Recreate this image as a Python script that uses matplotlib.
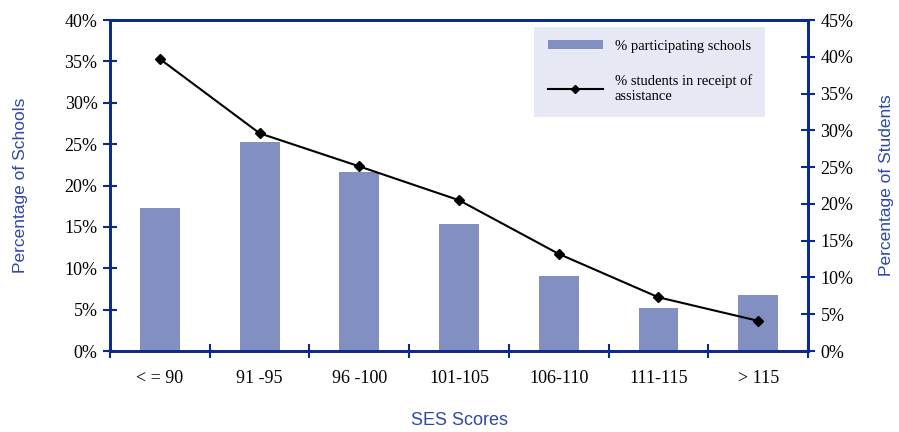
import matplotlib
matplotlib.use("Agg")
import matplotlib.pyplot as plt
from matplotlib.ticker import PercentFormatter, FixedLocator
from matplotlib.lines import Line2D
from matplotlib.patches import Patch

categories = ["< = 90", "91 -95", "96 -100", "101-105", "106-110", "111-115", "> 115"]
pct_schools = [17.3, 25.3, 21.6, 15.3, 9.1, 5.2, 6.8]
pct_students = [39.7, 29.6, 25.1, 20.5, 13.2, 7.3, 4.1]

axis_blue = "#0B2A8C"
label_blue = "#2E48A4"
bar_color = "#8190C0"
legend_bg = "#E6E8F3"
serif = ["Liberation Serif", "DejaVu Serif"]
sans = ["Liberation Sans", "DejaVu Sans"]

fig = plt.figure(figsize=(8.99, 4.32), dpi=100)
ax = fig.add_axes([0.1224, 0.1875, 0.7764, 0.7662])
ax2 = ax.twinx()

x = list(range(len(categories)))
ax.bar(x, pct_schools, width=0.4, color=bar_color, zorder=2)
ax2.plot(x, pct_students, color="black", lw=1.5, marker="D", ms=5.5,
         mfc="black", mec="black", zorder=3)

ax.set_xlim(-0.5, len(categories) - 0.5)
ax.set_ylim(0, 40)
ax2.set_ylim(0, 45)
ax.set_yticks(range(0, 41, 5))
ax2.set_yticks(range(0, 46, 5))
ax.yaxis.set_major_formatter(PercentFormatter(decimals=0))
ax2.yaxis.set_major_formatter(PercentFormatter(decimals=0))

ax.xaxis.set_major_locator(FixedLocator([i + 0.5 for i in range(-1, len(categories))]))
ax.xaxis.set_minor_locator(FixedLocator(x))
ax.set_xticklabels([])
ax.set_xticklabels(categories, minor=True)
ax.tick_params(axis="x", which="major", direction="inout", length=10, width=1.5,
               color=axis_blue)
ax.tick_params(axis="x", which="minor", length=0, pad=14, labelsize=13)
for lab in ax.get_xticklabels(minor=True):
    lab.set_fontfamily(serif)

ax.tick_params(axis="y", direction="inout", length=10, width=1.5, color=axis_blue,
               labelsize=13, pad=4)
ax2.tick_params(axis="y", direction="inout", length=10, width=1.5, color=axis_blue,
                labelsize=13, pad=4)
for lab in ax.get_yticklabels() + ax2.get_yticklabels():
    lab.set_fontfamily(serif)

for a in (ax, ax2):
    for s in a.spines.values():
        s.set_color(axis_blue)
        s.set_linewidth(2)

ax.set_ylabel("Percentage of Schools", color=label_blue, fontsize=12.5,
              fontfamily=sans, labelpad=26)
ax2.set_ylabel("Percentage of Students", color=label_blue, fontsize=12.5,
               fontfamily=sans, labelpad=18, rotation=90)
ax.set_xlabel("SES Scores", color=label_blue, fontsize=13, fontfamily=sans,
              labelpad=18)

handles = [Patch(facecolor=bar_color, edgecolor="none"),
           Line2D([0], [0], color="black", lw=1.5, marker="D", ms=4)]
labels = ["% participating schools", "% students in receipt of\nassistance"]
leg = ax2.legend(handles, labels, loc="upper left",
                 bbox_to_anchor=(0.608, 0.98), frameon=True, fancybox=False,
                 facecolor=legend_bg, edgecolor="none", framealpha=1,
                 prop={"family": serif, "size": 10.5}, handlelength=3.8,
                 handleheight=0.5, labelspacing=1.5, borderpad=0.9,
                 borderaxespad=0)

fig.savefig("out.png", dpi=100)
